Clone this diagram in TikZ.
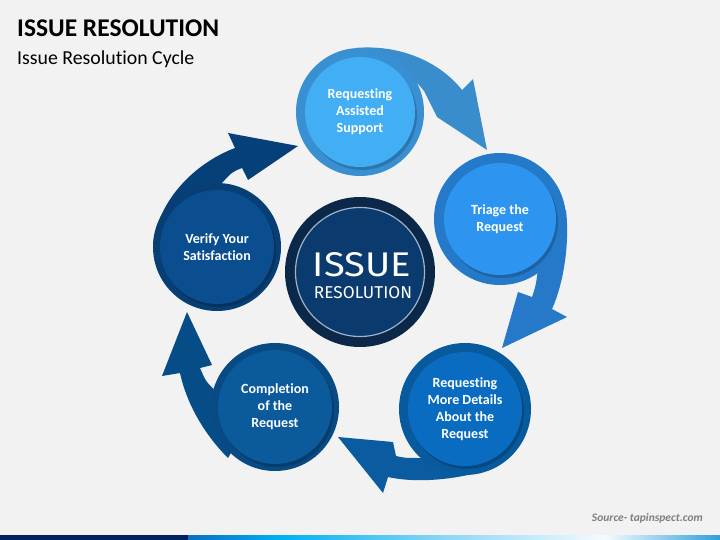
\documentclass[tikz,border=0pt]{standalone}
\usepackage{fontspec}
\setmainfont{Carlito}[Ligatures=NoCommon]
\newfontfamily\dinfont{Fira Sans}
\usepackage{graphicx}
\usetikzlibrary{calc}
\definecolor{bg}{HTML}{F2F2F2}
\definecolor{ringA}{HTML}{3890D3}\definecolor{fillA}{HTML}{42AEF3}\definecolor{arrA}{HTML}{3A8DCD}
\definecolor{ringB}{HTML}{2479C9}\definecolor{fillB}{HTML}{2D95F0}\definecolor{arrB}{HTML}{2679C9}
\definecolor{ringC}{HTML}{075A9E}\definecolor{fillC}{HTML}{0A6CC0}\definecolor{arrC}{HTML}{0A5BA0}
\definecolor{ringD}{HTML}{074A84}\definecolor{fillD}{HTML}{0B5A9B}\definecolor{arrD}{HTML}{064D87}
\definecolor{ringE}{HTML}{073E74}\definecolor{fillE}{HTML}{0A4E90}\definecolor{arrE}{HTML}{064078}
\definecolor{ctrOut}{HTML}{0B2849}\definecolor{ctrIn}{HTML}{0B3A6E}\definecolor{ctrLine}{HTML}{9EB3CC}
\definecolor{navybar}{HTML}{002060}
\definecolor{barA}{HTML}{0B6FBF}
\definecolor{barB}{HTML}{00B0F0}
\definecolor{barC}{HTML}{8FD8F5}
\definecolor{barD}{HTML}{F5FBFF}
\definecolor{barE}{HTML}{2F9FDB}
\definecolor{srcgray}{HTML}{7F7F7F}
\begin{document}
\begin{tikzpicture}[x=1pt,y=-1pt,
  ringnode/.style={circle,inner sep=0pt,minimum size=#1},
  ctext/.style={text=white,align=center,font=\fontsize{14}{17}\selectfont\bfseries},
  shade1/.style={fill=black,opacity=0.18}]
\useasboundingbox (0,0) rectangle (720,540);
\fill[bg] (0,0) rectangle (720,540);
% title
\node[anchor=base west,inner sep=0pt,font=\fontsize{25.5}{30}\selectfont\bfseries] (title) at (17,37) {ISSUE RESOLUTION};
\node[anchor=base west,inner sep=0pt,font=\fontsize{19.8}{24}\selectfont] (subtitle) at (17,65) {Issue Resolution Cycle};
% arrows (behind circles)
\fill[arrA] (360,60) -- (355,48) .. controls (400,44) and (440,62) .. (462,90) -- (473,79) -- (487,150) -- (437,117) -- (424,91) .. controls (415,80) .. (400,75) -- cycle;
\fill[arrB] (530,230) -- (566,210) .. controls (570,245) and (563,285) .. (552,309) -- (567,317) -- (502,348) -- (518,292) -- (532,297) .. controls (536,285) .. (538,268) -- cycle;
\fill[arrC] (460,440) -- (468,475) .. controls (440,481) and (410,482) .. (388,477) -- (383,493) -- (338,437) -- (393,442) -- (396,456) .. controls (405,458) .. (422,458) -- cycle;
\fill[arrD] (250,420) -- (228,458) .. controls (205,435) and (187,405) .. (180,373) -- (162,376) -- (187,312) -- (212,365) -- (200,368) .. controls (206,382) .. (218,393) -- cycle;
\fill[arrE] (215,230) -- (153,245) .. controls (158,200) and (195,163) .. (235,148) -- (228,133) -- (298,146) -- (248,180) -- (242,168) .. controls (232,172) .. (222,183) -- cycle;
% circles
\foreach \n/\x/\y/\ro/\ri/\rc/\fc in {c1/360/112/64/55/ringA/fillA, c2/500/219/66/56/ringB/fillB, c3/465/409/66/57/ringC/fillC, c4/275/407/64/57/ringD/fillD, c5/217/247/64/57/ringE/fillE}{
  \node[ringnode=2*\ro pt,fill=\rc] (\n) at (\x,\y) {};
  \fill[shade1] (\x+2,\y+3) circle (\ri);
  \fill[\fc] (\n) circle (\ri);
}
\node[ctext] (t1) at (c1) {Requesting\\Assisted\\Support};
\node[ctext] (t2) at (c2) {Triage the\\Request};
\node[ctext] (t3) at (c3) {Requesting\\More Details\\About the\\Request};
\node[ctext] (t4) at (c4) {Completion\\of the\\Request};
\node[ctext] (t5) at (c5) {Verify Your\\Satisfaction};
% center
\node[ringnode=150pt,fill=ctrOut] (ctr) at (360,272) {};
\fill[ctrIn,draw=ctrLine,line width=1.2pt] (ctr) circle (64.5);
\node[inner sep=0pt,text=white] (issue) at (362,265) {\resizebox{98pt}{24pt}{\dinfont ISSUE}};
\node[inner sep=0pt,text=white] (resol) at (363,293) {\resizebox{98pt}{12pt}{\dinfont RESOLUTION}};
% source
\node[anchor=base east,inner sep=0pt,text=srcgray,font=\fontsize{11.5}{13}\selectfont\bfseries\itshape] (src) at (703,521) {Source- tapinspect.com};
% bottom bar
\fill[navybar] (0,535) rectangle (188,540);
\shade[left color=barA,right color=barB] (188,535) rectangle (280,540);
\shade[left color=barB,right color=barC] (279.5,535) rectangle (450,540);
\shade[left color=barC,right color=barD] (449.5,535) rectangle (605,540);
\shade[left color=barD,right color=barE] (604.5,535) rectangle (720,540);
\end{tikzpicture}
\end{document}
